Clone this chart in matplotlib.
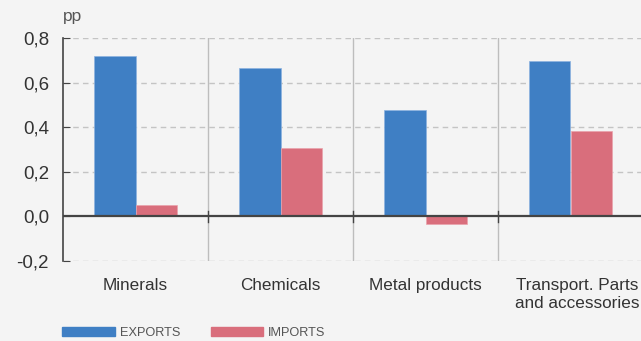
import matplotlib.pyplot as plt
import matplotlib.transforms as mtransforms
from matplotlib.patches import Patch

# contributions by sector, percentage points
categories = ["Minerals", "Chemicals", "Metal products", "Transport. Parts\nand accessories"]
exports = [0.72, 0.665, 0.475, 0.695]
imports = [0.05, 0.305, -0.035, 0.385]
yticks = [-0.2, 0.0, 0.2, 0.4, 0.6, 0.8]

blue = "#3f7fc4"
pink = "#d96e7c"
bg = "#f4f4f4"
txt = "#333333"

plt.rcParams["font.family"] = ["Liberation Sans", "DejaVu Sans"]

fig = plt.figure(figsize=(6.41, 3.41), dpi=100, facecolor=bg)
ax = fig.add_axes([63 / 641, 80 / 341, 580 / 641, 223 / 341], facecolor=bg)

x = list(range(len(categories)))
w = 0.283
ax.bar([i - w / 2 for i in x], exports, w, color=blue, zorder=3,
       edgecolor="#8db3e0", linewidth=0.5)
ax.bar([i + w / 2 for i in x], imports, w, color=pink, zorder=3,
       edgecolor="#eaa3ac", linewidth=0.5)

ax.set_xlim(-0.5, len(categories) - 0.5)
ax.set_ylim(-0.2, 0.8)

# dashed horizontal grid, solid zero line
for v in yticks:
    if v == 0:
        continue
    ax.axhline(v, color="#c4c4c4", lw=1, ls=(0, (4, 3)), zorder=1)
ax.axhline(0, color="#444444", lw=1.6, zorder=4)

# vertical separators between categories
for s in [i + 0.5 for i in x]:
    ax.axvline(s, color="#bdbdbd", lw=1, zorder=1)
    ax.plot([s, s], [-0.025, 0.025], color="#444444", lw=1, zorder=5)

for side in ["top", "right", "bottom"]:
    ax.spines[side].set_visible(False)
ax.spines["left"].set_color("#444444")
ax.spines["left"].set_linewidth(1.2)

ax.set_yticks(yticks)
ax.set_yticklabels([f"{v:.1f}".replace(".", ",") for v in yticks],
                   fontsize=13.5, color=txt)
ax.tick_params(axis="y", direction="in", length=5, color="#444444", pad=10)
ax.set_xticks(x)
ax.set_xticklabels(categories, fontsize=12.3, color=txt, linespacing=1.25,
                   va="top")
ax.tick_params(axis="x", length=0, pad=12)

# last label sits a little right of its slot
last = ax.get_xticklabels()[-1]
last.set_transform(last.get_transform() +
                   mtransforms.ScaledTranslation(7 / 100, 0, fig.dpi_scale_trans))

fig.text(63 / 641, 1 - 17 / 341, "pp", fontsize=12.5, color="#555555",
         va="center", ha="left")

handles = [Patch(color=blue, label="EXPORTS"), Patch(color=pink, label="IMPORTS")]
leg = fig.legend(handles=handles, loc="center left",
                 bbox_to_anchor=(57 / 641, 1 - 333 / 341), ncol=2, frameon=False,
                 handlelength=4.1, handleheight=0.6, handletextpad=0.4,
                 columnspacing=2.4, borderaxespad=0,
                 prop={"size": 9.2})
for t in leg.get_texts():
    t.set_color("#555555")

fig.savefig("out.png", dpi=100, facecolor=bg)
